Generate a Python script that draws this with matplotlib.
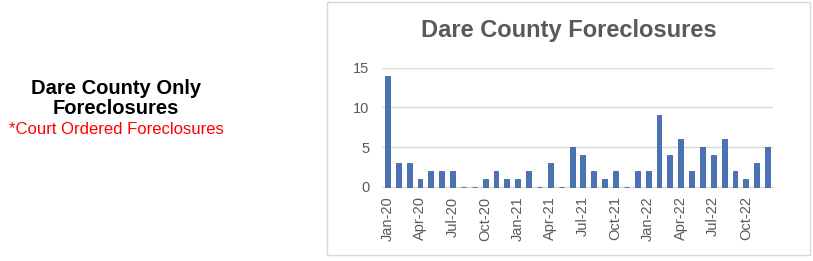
import matplotlib
matplotlib.use("Agg")
import matplotlib.pyplot as plt
from matplotlib.patches import Rectangle

months = [f"{m}-{y}" for y in ("20", "21", "22") for m in
          ("Jan", "Feb", "Mar", "Apr", "May", "Jun", "Jul", "Aug", "Sep", "Oct", "Nov", "Dec")]
values = [14, 3, 3, 1, 2, 2, 2, 0, 0, 1, 2, 1,
          1, 2, 0, 3, 0, 5, 4, 2, 1, 2, 0, 2,
          2, 9, 4, 6, 2, 5, 4, 6, 2, 1, 3, 5]
yticks = [0, 5, 10, 15]

plt.rcParams['font.family'] = ['Liberation Sans', 'DejaVu Sans']

fig = plt.figure(figsize=(8.13, 2.61), dpi=100)
W, H = 813, 261

# chart frame
fig.patches.append(Rectangle((327 / W, 1 - 255 / H), (810 - 327) / W, (255 - 2) / H,
                             transform=fig.transFigure, fill=False, edgecolor='#d9d9d9', lw=1))

ax = fig.add_axes([382 / W, 1 - 186.7 / H, (773 - 382) / W, (186.7 - 67.7) / H])
x = list(range(len(values)))
ax.bar(x, values, width=0.45, color='#4a73b5', edgecolor='#3d63a3', linewidth=0.6,
       zorder=3, clip_on=False)
ax.set_xlim(-0.5, len(values) - 0.5)
ax.set_ylim(0, 15)
ax.set_yticks(yticks)
ax.yaxis.grid(True, color='#d9d9d9', linewidth=1)
ax.set_axisbelow(True)
for s in ('top', 'right', 'left'):
    ax.spines[s].set_visible(False)
ax.spines['bottom'].set_color('#d9d9d9')
ax.tick_params(axis='y', length=0, labelsize=10.5, labelcolor='#595959', pad=9)
ax.set_xticks(x[::3])
ax.set_xticklabels(months[::3], rotation=90)
ax.tick_params(axis='x', length=0, labelsize=10.5, labelcolor='#595959', pad=7)

fig.text((327 + 810) / 2 / W, 1 - 30 / H, "Dare County Foreclosures", ha='center', va='center',
         fontsize=17, fontweight='bold', color='#595959')

fig.text(116 / W, 1 - 88 / H, "Dare County Only", ha='center', va='center',
         fontsize=14.5, fontweight='bold', color='black')
fig.text(116 / W, 1 - 109 / H, "Foreclosures", ha='center', va='center',
         fontsize=14.5, fontweight='bold', color='black')
fig.text(116 / W, 1 - 130 / H, "*Court Ordered Foreclosures", ha='center', va='center',
         fontsize=12, color='#ff0000')

fig.savefig("out.png", dpi=100)
